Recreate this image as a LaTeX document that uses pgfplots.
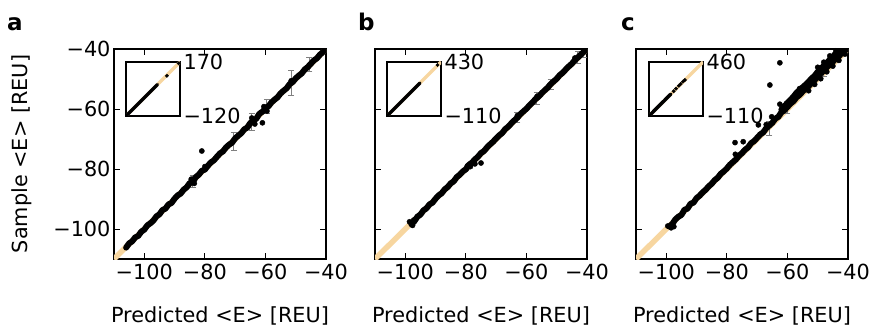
\documentclass[border=0pt]{standalone}
\usepackage{pgfplots}
\pgfplotsset{compat=1.18}
\usepackage{fontspec}
\setmainfont{DejaVu Sans}
\definecolor{wheatc}{RGB}{247,214,160}
\pgfplotsset{
  mainax/.style={scale only axis, width=212pt, height=210pt, anchor=south west,
    xmin=-110, xmax=-40, ymin=-110, ymax=-40,
    xtick={-100,-80,-60,-40}, ytick={-100,-80,-60,-40},
    xticklabels={−100,−80,−60,−40},
    tick align=inside, major tick length=6pt, minor tick num=0,
    xtick pos=both, ytick pos=both,
    axis line style={line width=1.2pt},
    every tick/.style={black, line width=0.8pt},
    xticklabel style={yshift=-2pt},
    clip=true},
  insetax/.style={scale only axis, width=54pt, height=54pt, anchor=south west,
    xtick=\empty, ytick pos=right, yticklabel pos=right,
    major tick length=0pt,
    axis line style={line width=1.2pt}},
  band/.style={black, line width=6pt, line cap=round, line join=round, mark=none},
  pts/.style={only marks, mark=*, mark size=2.6pt, black, mark options={draw=black, fill=black, line width=0.4pt}},
  iband/.style={black, line width=3.5pt, line cap=round, line join=round, mark=none},
  ipts/.style={only marks, mark=*, mark size=1.7pt, black, mark options={draw=black, fill=black, line width=0.4pt}},
  ebars/.style={draw=none, mark=none, error bars/.cd, y dir=both, y explicit,
    error bar style={draw=gray, line width=1pt},
    error mark options={rotate=90, mark size=3pt, draw=gray, line width=1pt}},
}
\begin{document}
\begin{tikzpicture}[font=\fontsize{20.8}{25}\selectfont]
\path[use as bounding box] (0,0) rectangle (871pt,-326pt);

% ---------------- panel a ----------------
\begin{axis}[mainax, at={(114pt,-259pt)}, yticklabels={−100,−80,−60,−40}]
\addplot[wheatc, line width=5.5pt] coordinates {(-110,-110) (-40,-40)};
\addplot[ebars] coordinates {(-51.5,-51.3) +- (0,4.2) (-45.5,-45.2) +- (0,2.4) (-64.5,-64.4) +- (0,2.8) (-70.5,-70.8) +- (0,3) (-84,-84.1) +- (0,2) (-59.5,-59.2) +- (0,2.4)};
\addplot[band] coordinates {
(-106,-106.2) (-105,-104.8) (-104,-104.1) (-103,-102.8) (-102,-102.3) (-101,-100.9)
(-100,-100.2) (-99,-98.8) (-98,-98.1) (-97,-97.2) (-96,-95.8) (-95,-95.1) (-94,-93.7)
(-93,-93.2) (-92,-91.8) (-91,-91.3) (-90,-89.9) (-89,-88.8) (-88,-88.2) (-87,-86.9)
(-86,-86.1) (-85,-84.7) (-84,-84.4) (-83,-82.7) (-82,-81.9) (-81,-80.6) (-80,-80.2)
(-79,-78.9) (-78,-77.8) (-77,-77.1) (-76,-75.9) (-75,-74.8) (-74,-74.1) (-73,-72.8)
(-72,-71.9) (-71,-71.2) (-70,-69.8) (-69,-68.9) (-68,-68.1) (-67,-66.8) (-66,-66.2)
(-65,-64.7) (-64,-63.9) (-63,-63.2) (-62,-61.6) (-61,-60.9) (-60,-59.8) (-59,-59.1)
(-58,-57.8) (-57,-56.9) (-56,-56.1) (-55,-54.8) (-54,-53.9) (-53,-53.1) (-52,-51.7)
(-51,-51.0) (-50,-49.8) (-49,-48.9) (-48,-48.1) (-47,-46.8) (-46,-46.0) (-45,-44.9)
(-44,-43.8) (-43,-43.1) (-42,-41.9) (-41,-41.0) (-40.2,-40.1)
};
\addplot[pts] coordinates {
(-84.5,-83.4) (-83.5,-84.8) (-80,-79.2) (-64.5,-63.0) (-63.5,-65.0)
(-60.5,-59.2) (-59.5,-60.7) (-52.5,-52.5) (-51.5,-50.6) (-81,-74) (-61,-64.6)
};
\end{axis}
\begin{axis}[insetax, at={(126pt,-116pt)}, xmin=-120, xmax=170, ymin=-120, ymax=170,
  ytick={-120,170}, yticklabels={−120,170}]
\addplot[wheatc, line width=3.5pt] coordinates {(-120,-120) (170,170)};
\addplot[iband] coordinates {(-120,-120) (-100,-100) (-80,-80) (-60,-60) (-40,-40)
(-20,-20) (0,0) (20,20) (40,40) (48,48)};
\addplot[ipts] coordinates {(100,96) (163,163)};
\end{axis}

% ---------------- panel b ----------------
\begin{axis}[mainax, at={(375pt,-259pt)}, yticklabels={}]
\addplot[wheatc, line width=5.5pt] coordinates {(-110,-110) (-40,-40)};
\addplot[ebars] coordinates {(-56.6,-56.4) +- (0,2) (-52,-51.8) +- (0,1.8) (-43,-42.8) +- (0,2) (-41,-40.5) +- (0,2.4) (-63,-62.8) +- (0,1.6)};
\addplot[band] coordinates {
(-98,-98.4) (-97,-97.4) (-96,-95.9) (-95,-95.2) (-94,-93.8)
(-93,-93.1) (-92,-91.8) (-91,-91.2) (-90,-89.9) (-89,-88.8) (-88,-88.1) (-87,-86.8)
(-86,-86.0) (-85,-84.8) (-84,-84.1) (-83,-82.7) (-82,-81.9) (-81,-80.8) (-80,-80.1)
(-79,-78.6) (-78,-77.9) (-77,-76.8) (-76,-75.9) (-75,-74.7) (-74,-74.0) (-73,-72.8)
(-72,-71.8) (-71,-70.9) (-70,-69.8) (-69,-68.8) (-68,-68.0) (-67,-66.7) (-66,-65.9)
(-65,-64.8) (-64,-63.8) (-63,-62.9) (-62,-61.7) (-61,-60.8) (-60,-59.9) (-59,-58.8)
(-58,-57.8) (-57,-56.7) (-56,-55.9) (-55,-54.8) (-54,-53.8) (-53,-52.9) (-52,-51.7)
(-51,-50.8) (-50,-49.9) (-49,-48.7) (-48,-47.9) (-47,-46.8) (-46,-45.8) (-45,-44.9)
(-44,-43.7) (-43,-42.8) (-42,-41.8) (-41,-40.9) (-40.2,-40.1)
};
\addplot[pts] coordinates {
(-98.6,-97.6) (-97.6,-98.8) (-97.2,-97.0) (-79.5,-79.0) (-78.5,-79.2)
(-75,-78) (-77,-78.3) (-63,-62.2) (-56.5,-55.8) (-44,-43.0)
};
\end{axis}
\begin{axis}[insetax, at={(387pt,-116pt)}, xmin=-110, xmax=430, ymin=-110, ymax=430,
  ytick={-110,430}, yticklabels={−110,430}]
\addplot[wheatc, line width=3.5pt] coordinates {(-110,-110) (430,430)};
\addplot[iband] coordinates {(-110,-110) (-70,-70) (-30,-30) (10,10) (50,50) (90,90)
(130,130) (170,170) (210,210) (220,220)};
\addplot[ipts] coordinates {(395,400)};
\end{axis}

% ---------------- panel c ----------------
\begin{axis}[mainax, at={(636pt,-259pt)}, yticklabels={}]
\addplot[wheatc, line width=5.5pt] coordinates {(-110,-110) (-40,-40)};
\addplot[ebars] coordinates {(-66,-66.5) +- (0,2.4) (-60,-59.5) +- (0,2) (-48,-47.5) +- (0,1.8)};
\addplot[band] coordinates {
(-99,-99.2) (-98,-98.3) (-97,-96.8) (-96,-95.9) (-95,-95.3)
(-94,-93.6) (-93,-93.2) (-92,-91.6) (-91,-91.2) (-90,-89.7) (-89,-88.9) (-88,-87.8)
(-87,-86.9) (-86,-85.8) (-85,-84.9) (-84,-83.7) (-83,-82.9) (-82,-81.6) (-81,-80.8)
(-80,-79.8) (-79,-78.6) (-78,-77.7) (-77,-76.8) (-76,-75.6) (-75,-74.7) (-74,-73.6)
(-73,-72.8) (-72,-71.4) (-71,-70.7) (-70,-69.6) (-69,-68.5) (-68,-67.8) (-67,-66.4)
(-66,-65.5) (-65,-64.6) (-64,-63.2) (-63,-62.6) (-62,-61.1) (-61,-60.4) (-60,-59.3)
(-59,-58.2) (-58,-57.4) (-57,-56.1) (-56,-55.3) (-55,-54.2) (-54,-53.1) (-53,-52.4)
(-52,-51.2) (-51,-50.3) (-50,-49.2) (-49,-48.1) (-48,-47.3) (-47,-46.1) (-46,-45.2)
(-45,-44.3) (-44,-43.1) (-43,-42.4) (-42,-41.3) (-41,-40.5) (-40.2,-39.8)
};
\addplot[band] coordinates {
(-62,-60.2) (-60,-58.0) (-58,-55.9) (-57,-54.6) (-55,-52.8) (-54,-51.9) (-53,-50.9)
(-52,-49.8) (-51,-48.9) (-50,-47.6) (-49,-46.7) (-48,-45.6) (-47,-44.7) (-46,-43.5)
(-45,-42.6) (-44,-41.5) (-43,-40.6) (-42,-39.6)
};
\addplot[pts] coordinates {
(-99.5,-99.0) (-98.4,-99.6) (-97.5,-99.2) (-53,-53.9) (-51,-51.8) (-49,-49.9) (-47,-47.6)
(-45,-45.7) (-43,-43.8) (-41,-41.7) (-50,-46.1) (-46,-42.3) (-44,-40.6) (-56,-53.2)
(-48,-44.4) (-44.5,-41.9)
(-62.5,-44.6) (-65.8,-52) (-62.5,-58.4) (-65.2,-62.6) (-55.9,-53.4) (-77.3,-71.2)
(-74.6,-70.9) (-77.2,-75.1) (-69.6,-65.3) (-67,-65.2)
};
\end{axis}
\begin{axis}[insetax, at={(649pt,-116pt)}, xmin=-110, xmax=460, ymin=-110, ymax=460,
  ytick={-110,460}, yticklabels={−110,460}]
\addplot[wheatc, line width=3.5pt] coordinates {(-110,-110) (460,460)};
\addplot[iband] coordinates {(-110,-110) (-70,-70) (-30,-28) (10,12) (50,50) (90,92)
(120,120)};
\addplot[ipts] coordinates {(150,152) (175,178) (205,210) (225,228) (250,255) (268,270)};
\end{axis}

% ---------------- labels ----------------
\node[anchor=base west, font=\fontsize{23}{27}\selectfont\bfseries, inner sep=0pt] at (7pt,-31pt) {a};
\node[anchor=base west, font=\fontsize{23}{27}\selectfont\bfseries, inner sep=0pt] at (358pt,-31pt) {b};
\node[anchor=base west, font=\fontsize{23}{27}\selectfont\bfseries, inner sep=0pt] at (621pt,-31pt) {c};
\node[anchor=base, inner sep=0pt] at (220pt,-322pt) {Predicted <E> [REU]};
\node[anchor=base, inner sep=0pt] at (481pt,-322pt) {Predicted <E> [REU]};
\node[anchor=base, inner sep=0pt] at (742pt,-322pt) {Predicted <E> [REU]};
\node[rotate=90, inner sep=0pt] at (22pt,-154pt) {Sample <E> [REU]};
\end{tikzpicture}
\end{document}
